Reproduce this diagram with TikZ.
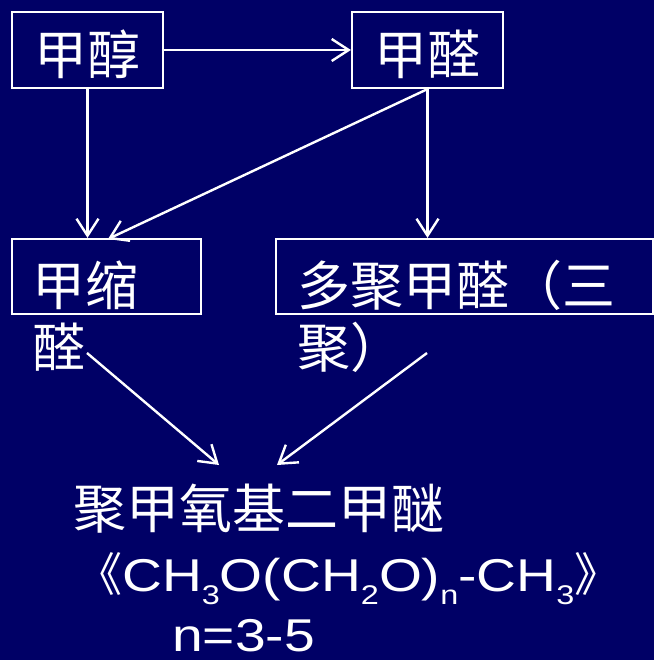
\documentclass[tikz,border=0pt]{standalone}
\usepackage{fontspec}
\newfontfamily\cjk{Noto Sans CJK SC}
\newfontfamily\formfont[FakeStretch=1.2]{Liberation Sans}
\usetikzlibrary{arrows.meta}
\definecolor{bgblue}{RGB}{0,0,102}
\newcommand\chemsub[1]{\raisebox{-13pt}{\fontsize{27}{28}\selectfont #1}}
\tikzset{
  box/.style={draw=white, line width=2.2pt, rectangle, inner sep=0pt},
  conn/.style={draw=white, line width=2.4pt, -{Straight Barb[length=17pt,width=22pt]}},
  cjktext/.style={text=white, inner sep=0pt, font=\cjk\fontsize{53}{62}\selectfont},
  formtext/.style={text=white, inner sep=0pt, font=\formfont\fontsize{46}{50}\selectfont}
}
\begin{document}
\begin{tikzpicture}[x=1pt,y=-1pt]
\useasboundingbox (0,0) rectangle (654,660);
\fill[bgblue] (0,0) rectangle (654,660);

% boxes
\node[box, minimum width=151pt, minimum height=76pt] (m) at (87.5,50) {};
\node[box, minimum width=151pt, minimum height=76pt] (a) at (427.5,50) {};
\node[box, minimum width=189pt, minimum height=75pt] (ac) at (106.5,276.5) {};
\node[box, minimum width=377pt, minimum height=75pt] (p) at (464.5,276.5) {};

% texts
\node[cjktext, anchor=base] (tm) at (87.5,75) {甲醇};
\node[cjktext, anchor=base] (ta) at (427.5,75) {甲醛};
\node[cjktext, anchor=base west, align=left] (tac) at (32,367) {甲缩\\醛};
\node[cjktext, anchor=base west, align=left] (tp) at (297,367) {多聚甲醛（三\\聚）};
\node[cjktext, anchor=base west] (title) at (73,528) {聚甲氧基二甲醚};
\node[formtext, anchor=base west] (form) at (76,591)
  {{\cjk 《}CH\chemsub{3}O(CH\chemsub{2}O)\chemsub{n}-CH\chemsub{3}{\cjk 》}};
\node[formtext, anchor=base west] (nval) at (172,651) {n=3-5};

% connectors
\coordinate (acin) at (108,239);
\coordinate (s1) at (87,353);
\coordinate (e1) at (219,465);
\coordinate (s2) at (427,353);
\coordinate (e2) at (277,465);
\draw[conn] (m.east) -- (a.west);
\draw[conn] (m.south) -- (m.south |- ac.north);
\draw[conn] (a.south) -- (acin);
\draw[conn] (a.south) -- (a.south |- p.north);
\draw[conn] (s1) -- (e1);
\draw[conn] (s2) -- (e2);
\end{tikzpicture}
\end{document}
